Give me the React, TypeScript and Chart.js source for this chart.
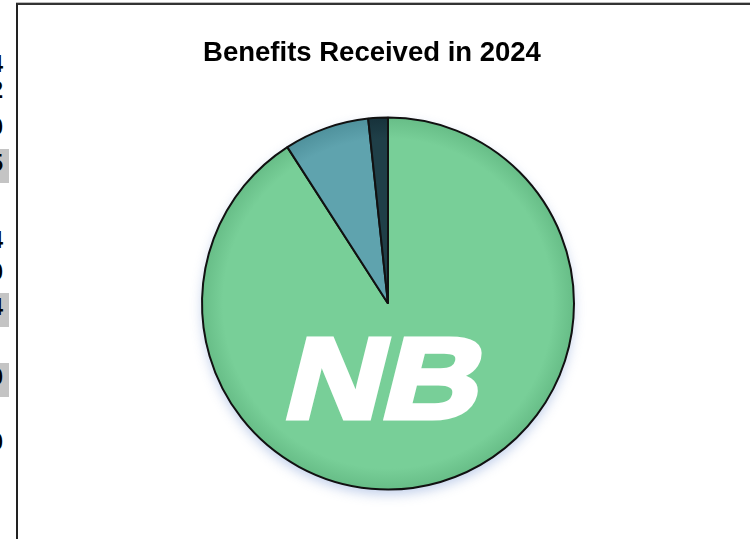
import React, { useEffect, useRef } from "react";
import { Chart, registerables } from "chart.js";

Chart.register(...registerables);

const categories: string[] = ["Received benefits", "Partial benefits", "No benefits"];
const shares: number[] = [90.9, 7.4, 1.7];
const sliceColors: string[] = ["#78CF98", "#5FA3AE", "#1F3F48"];
const sliceEdgeColors: string[] = ["#66BC86", "#4E909B", "#16313A"];
const chartTitle = "Benefits Received in 2024";
const logoText = "NB";
const sideLabels: string[] = ["4", "2", "0", "5", "4", "0", "4", "0", "0"];
const sideLabelShaded: boolean[] = [false, false, false, true, false, false, true, true, false];

const shadowPlugin = {
  id: "pieShadow",
  beforeDatasetsDraw(chart: any) {
    const arc = chart.getDatasetMeta(0).data[0];
    if (!arc) return;
    const { ctx } = chart;
    ctx.save();
    ctx.shadowColor = "rgba(120,150,210,0.45)";
    ctx.shadowBlur = 12;
    ctx.shadowOffsetY = 5;
    ctx.beginPath();
    ctx.arc(arc.x, arc.y, arc.outerRadius, 0, Math.PI * 2);
    ctx.fillStyle = "#ffffff";
    ctx.fill();
    ctx.restore();
  },
};

const logoPlugin = {
  id: "nbLogo",
  afterDatasetsDraw(chart: any) {
    const arc = chart.getDatasetMeta(0).data[0];
    if (!arc) return;
    const { ctx } = chart;
    const r = arc.outerRadius;
    ctx.save();
    ctx.translate(arc.x - r * 0.06, arc.y + r * 0.63);
    ctx.transform(1.17, 0, -0.25, 1, 0, 0);
    ctx.font = `bold ${Math.round(r * 0.62)}px "Liberation Sans", Arial, sans-serif`;
    ctx.textAlign = "center";
    ctx.textBaseline = "alphabetic";
    ctx.fillStyle = "#ffffff";
    ctx.strokeStyle = "#ffffff";
    ctx.lineWidth = 5;
    ctx.lineJoin = "miter";
    ctx.strokeText(logoText, 0, -2.5);
    ctx.fillText(logoText, 0, -2.5);
    ctx.restore();
  },
};

function PieChart() {
  const ref = useRef<HTMLCanvasElement | null>(null);
  useEffect(() => {
    if (!ref.current) return;
    const chart = new Chart(ref.current, {
      type: "pie",
      data: {
        labels: categories,
        datasets: [
          {
            data: shares,
            backgroundColor: (c: any) => {
              const i = c.dataIndex;
              const area = c.chart.chartArea;
              if (!area) return sliceColors[i];
              const cx = (area.left + area.right) / 2;
              const cy = (area.top + area.bottom) / 2;
              const r = Math.min(area.right - area.left, area.bottom - area.top) / 2;
              const g = c.chart.ctx.createRadialGradient(cx, cy, 0, cx, cy, r);
              g.addColorStop(0, sliceColors[i]);
              g.addColorStop(0.88, sliceColors[i]);
              g.addColorStop(1, sliceEdgeColors[i]);
              return g;
            },
            borderColor: "#111111",
            borderWidth: 2,
          },
        ],
      },
      options: {
        animation: false,
        responsive: false,
        radius: 186,
        layout: { padding: { left: 200, right: 174, top: 116, bottom: 48 } },
        plugins: {
          legend: { display: false },
          title: { display: false },
          tooltip: { enabled: false },
        },
      } as any,
      plugins: [shadowPlugin, logoPlugin],
    });
    return () => chart.destroy();
  }, []);
  return (
    <canvas
      ref={ref}
      width={750}
      height={539}
      style={{ position: "absolute", left: 0, top: 0, width: 750, height: 539 }}
    />
  );
}

export default function App() {
  const rowTops = [50, 76, 113, 149, 226, 258, 293, 363, 428];
  return (
    <div
      style={{
        position: "absolute",
        left: 0,
        top: 0,
        width: 750,
        height: 539,
        overflow: "hidden",
        background: "#ffffff",
      }}
    >
      <div
        style={{
          position: "absolute",
          left: 0,
          top: 0,
          width: 9,
          height: 539,
          overflow: "hidden",
        }}
      >
        {sideLabels.map((t, i) => (
          <div
            key={i}
            style={{
              position: "absolute",
              right: 0,
              top: rowTops[i],
              width: 40,
              height: sideLabelShaded[i] ? 34 : 26,
              lineHeight: sideLabelShaded[i] ? "34px" : "26px",
              background: sideLabelShaded[i] ? "#c4c4c4" : "transparent",
              textAlign: "right",
              paddingRight: 6,
              boxSizing: "border-box",
              font: 'bold 24px "Liberation Sans", Arial, sans-serif',
              color: "#000",
            }}
          >
            {t}
          </div>
        ))}
      </div>
      <div
        style={{
          position: "absolute",
          left: 16,
          top: 3,
          width: 800,
          height: 600,
          borderLeft: "2px solid #222",
          borderTop: "2px solid #333",
          boxShadow: "0 -1px 0 #bbbbbb",
        }}
      />
      <PieChart />
      <div
        style={{
          position: "absolute",
          left: 0,
          top: 36,
          width: 744,
          textAlign: "center",
          font: 'bold 27.5px "Liberation Sans", Arial, sans-serif',
          lineHeight: "32px",
          color: "#000",
        }}
      >
        {chartTitle}
      </div>
    </div>
  );
}
